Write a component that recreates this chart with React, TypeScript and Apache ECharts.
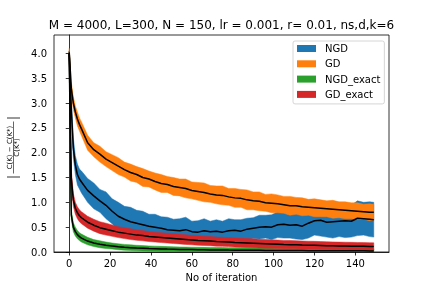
import React, { useEffect, useRef } from "react";
import * as echarts from "echarts";

const TITLE = "M = 4000, L=300, N = 150, lr = 0.001, r= 0.01, ns,d,k=6";
const X_NAME = "No of iteration";
const SERIES_NAMES = ["NGD", "GD", "NGD_exact", "GD_exact"];
const COLORS = ["#1f77b4", "#ff7f0e", "#2ca02c", "#d62728"];
const X_TICKS = [0, 20, 40, 60, 80, 100, 120, 140];
const Y_TICKS = [0, 0.5, 1, 1.5, 2, 2.5, 3, 3.5, 4];

const ITER = [0, 1, 2, 3, 4, 5, 6, 9, 12, 15, 18, 21, 24, 27, 30, 33, 36, 39, 42, 45, 48, 51, 54, 57, 60, 63, 66, 69, 72, 75, 78, 81, 84, 87, 90, 93, 96, 99, 102, 105, 108, 111, 114, 117, 120, 123, 126, 129, 132, 135, 138, 141, 144, 147, 149];

const NGD_MEAN = [4.0, 2.9, 2.1, 1.75, 1.56, 1.47, 1.41, 1.24, 1.13, 1.03, 0.94, 0.82, 0.72, 0.66, 0.61, 0.58, 0.55, 0.52, 0.5, 0.48, 0.45, 0.44, 0.43, 0.45, 0.41, 0.4, 0.43, 0.41, 0.42, 0.4, 0.43, 0.44, 0.42, 0.46, 0.48, 0.5, 0.51, 0.5, 0.55, 0.56, 0.54, 0.55, 0.52, 0.58, 0.63, 0.64, 0.6, 0.61, 0.62, 0.63, 0.62, 0.68, 0.67, 0.66, 0.65];
const NGD_STD = [0.05, 0.18, 0.2, 0.19, 0.21, 0.2, 0.22, 0.24, 0.26, 0.23, 0.27, 0.25, 0.28, 0.26, 0.29, 0.26, 0.27, 0.24, 0.26, 0.23, 0.25, 0.22, 0.24, 0.25, 0.21, 0.23, 0.24, 0.21, 0.23, 0.22, 0.24, 0.21, 0.23, 0.22, 0.21, 0.24, 0.23, 0.25, 0.26, 0.28, 0.26, 0.29, 0.27, 0.3, 0.29, 0.32, 0.3, 0.33, 0.31, 0.34, 0.32, 0.35, 0.33, 0.35, 0.35];

const GD_MEAN = [4.02, 3.3, 3.0, 2.82, 2.68, 2.57, 2.48, 2.2, 2.06, 1.97, 1.87, 1.8, 1.73, 1.66, 1.6, 1.56, 1.5, 1.47, 1.42, 1.38, 1.36, 1.32, 1.3, 1.28, 1.24, 1.22, 1.2, 1.17, 1.15, 1.14, 1.11, 1.09, 1.08, 1.05, 1.03, 1.02, 0.99, 0.98, 0.97, 0.95, 0.93, 0.93, 0.91, 0.9, 0.89, 0.88, 0.87, 0.86, 0.85, 0.84, 0.83, 0.82, 0.81, 0.8, 0.8];
const GD_STD = [0.08, 0.12, 0.13, 0.12, 0.14, 0.13, 0.14, 0.15, 0.14, 0.16, 0.15, 0.16, 0.17, 0.15, 0.17, 0.16, 0.18, 0.16, 0.17, 0.18, 0.16, 0.18, 0.17, 0.19, 0.17, 0.18, 0.19, 0.17, 0.18, 0.19, 0.17, 0.19, 0.18, 0.2, 0.18, 0.19, 0.17, 0.19, 0.18, 0.17, 0.19, 0.17, 0.18, 0.16, 0.18, 0.17, 0.16, 0.18, 0.16, 0.17, 0.16, 0.17, 0.15, 0.17, 0.16];

const NGDX_MEAN = [4.0, 0.75, 0.5, 0.41, 0.35, 0.31, 0.28, 0.22, 0.18, 0.155, 0.135, 0.12, 0.105, 0.095, 0.088, 0.08, 0.075, 0.07, 0.066, 0.062, 0.058, 0.055, 0.052, 0.05, 0.048, 0.046, 0.044, 0.042, 0.041, 0.04, 0.038, 0.037, 0.036, 0.035, 0.034, 0.033, 0.032, 0.031, 0.03, 0.03, 0.029, 0.028, 0.028, 0.027, 0.027, 0.026, 0.026, 0.025, 0.025, 0.024, 0.024, 0.023, 0.023, 0.022, 0.022];
const NGDX_STD = [0.05, 0.1, 0.09, 0.09, 0.085, 0.08, 0.08, 0.075, 0.07, 0.07, 0.065, 0.06, 0.06, 0.058, 0.056, 0.055, 0.054, 0.053, 0.052, 0.052, 0.051, 0.05, 0.05, 0.05, 0.05, 0.05, 0.05, 0.05, 0.05, 0.05, 0.05, 0.05, 0.05, 0.05, 0.05, 0.049, 0.049, 0.048, 0.048, 0.048, 0.047, 0.047, 0.047, 0.046, 0.046, 0.046, 0.046, 0.045, 0.045, 0.045, 0.045, 0.045, 0.045, 0.045, 0.045];

const GDX_MEAN = [4.0, 1.5, 1.05, 0.88, 0.79, 0.73, 0.69, 0.6, 0.54, 0.49, 0.46, 0.43, 0.4, 0.38, 0.36, 0.34, 0.33, 0.31, 0.3, 0.29, 0.28, 0.27, 0.26, 0.25, 0.24, 0.23, 0.225, 0.22, 0.21, 0.205, 0.2, 0.19, 0.185, 0.18, 0.175, 0.17, 0.165, 0.16, 0.155, 0.15, 0.148, 0.145, 0.14, 0.137, 0.134, 0.131, 0.128, 0.125, 0.122, 0.12, 0.118, 0.116, 0.114, 0.112, 0.11];
const GDX_STD = [0.05, 0.15, 0.13, 0.12, 0.12, 0.12, 0.12, 0.12, 0.12, 0.12, 0.12, 0.115, 0.11, 0.11, 0.11, 0.105, 0.105, 0.1, 0.1, 0.1, 0.1, 0.1, 0.098, 0.097, 0.096, 0.095, 0.094, 0.093, 0.092, 0.091, 0.09, 0.09, 0.09, 0.09, 0.09, 0.088, 0.087, 0.086, 0.085, 0.084, 0.083, 0.082, 0.081, 0.08, 0.08, 0.079, 0.078, 0.078, 0.077, 0.077, 0.076, 0.076, 0.075, 0.075, 0.075];

const MEANS = [NGD_MEAN, GD_MEAN, NGDX_MEAN, GDX_MEAN];
const STDS = [NGD_STD, GD_STD, NGDX_STD, GDX_STD];

function buildSeries() {
  const out: any[] = [];
  SERIES_NAMES.forEach((name, k) => {
    const m = MEANS[k];
    const s = STDS[k];
    const lower = m.map((v, i) => Math.max(0, v - s[i]));
    const upper = m.map((v, i) => v + s[i]);
    const color = COLORS[k];
    out.push({
      type: "custom",
      name,
      data: ITER.map((x, i) => [x, lower[i], upper[i]]),
      encode: { x: 0, y: [1, 2] },
      itemStyle: { color },
      clip: true,
      silent: true,
      renderItem: (params: any, api: any) => {
        if (params.dataIndex !== 0) return null;
        const top = ITER.map((x, i) => api.coord([x, upper[i]]));
        const bot = ITER.map((x, i) => api.coord([x, lower[i]])).reverse();
        return {
          type: "polygon",
          shape: { points: top.concat(bot) },
          style: { fill: color, stroke: color, lineWidth: 0.5 },
        };
      },
    });
    out.push({
      type: "line",
      name: name + "_mean",
      data: ITER.map((x, i) => [x, m[i]]),
      symbol: "none",
      lineStyle: { color: "#000", width: 1.5 },
      silent: true,
    });
  });
  return out;
}

export default function App() {
  const ref = useRef<HTMLDivElement>(null);
  useEffect(() => {
    if (!ref.current) return;
    const chart = echarts.init(ref.current, null, { renderer: "svg" });
    const font = "DejaVu Sans";
    chart.setOption({
      animation: false,
      textStyle: { fontFamily: font },
      grid: {
        left: 54,
        right: 43,
        top: 35,
        bottom: 36,
        show: true,
        borderColor: "#000",
        borderWidth: 0.8,
        backgroundColor: "transparent",
      },
      legend: {
        data: SERIES_NAMES.map((n, k) => ({ name: n, icon: "rect", itemStyle: { color: COLORS[k] } })),
        orient: "vertical",
        left: 293,
        top: 41,
        padding: [1.5, 4, 3.5, 4],
        itemGap: 3.3,
        itemWidth: 19,
        itemHeight: 7,
        borderColor: "#cccccc",
        borderWidth: 0.8,
        borderRadius: 2,
        backgroundColor: "rgba(255,255,255,0.8)",
        textStyle: { fontFamily: font, fontSize: 10, color: "#000", lineHeight: 12, padding: [0, 0, 0, 4] },
        selectedMode: false,
      },
      xAxis: {
        type: "value",
        min: -7.45,
        max: 156.45,
        name: X_NAME,
        nameLocation: "middle",
        nameGap: 19,
        nameTextStyle: { fontFamily: font, fontSize: 10, color: "#000" },
        axisLine: { show: true, lineStyle: { color: "#000", width: 0.8 } },
        axisTick: { show: true, customValues: X_TICKS, length: 3.5, lineStyle: { color: "#000", width: 0.8 } },
        axisLabel: { customValues: X_TICKS, fontFamily: font, fontSize: 10, color: "#000", margin: 6 },
        splitLine: { show: false },
      },
      yAxis: {
        type: "value",
        min: 0,
        max: 4.37,
        axisLine: { show: true, lineStyle: { color: "#000", width: 0.8 } },
        axisTick: { show: true, customValues: Y_TICKS, length: 3.5, lineStyle: { color: "#000", width: 0.8 } },
        axisLabel: {
          customValues: Y_TICKS,
          fontFamily: font,
          fontSize: 10,
          color: "#000",
          margin: 7,
          formatter: (v: number) => v.toFixed(1),
        },
        splitLine: { show: false },
      },
      graphic: [
        {
          type: "text",
          x: 221.5,
          y: 25,
          style: { text: TITLE, fontFamily: font, fontSize: 12, fill: "#000", textAlign: "center", textVerticalAlign: "middle" },
        },
        {
          type: "group",
          x: 13.5,
          y: 147.5,
          rotation: Math.PI / 2,
          children: [
            { type: "text", x: 0, y: -3.5, style: { text: "C(K) − C(K*)", fontFamily: font, fontSize: 7, fill: "#000", textAlign: "center", textVerticalAlign: "middle" } },
            { type: "text", x: 0, y: 3.5, style: { text: "C(K*)", fontFamily: font, fontSize: 7, fill: "#000", textAlign: "center", textVerticalAlign: "middle" } },
            { type: "line", shape: { x1: -26, y1: 0, x2: 26, y2: 0 }, style: { stroke: "#000", lineWidth: 0.6 } },
            { type: "line", shape: { x1: -29.5, y1: -6.5, x2: -29.5, y2: 6.5 }, style: { stroke: "#000", lineWidth: 0.8 } },
            { type: "line", shape: { x1: 29.5, y1: -6.5, x2: 29.5, y2: 6.5 }, style: { stroke: "#000", lineWidth: 0.8 } },
          ],
        },
      ],
      series: buildSeries(),
    });
    return () => chart.dispose();
  }, []);
  return <div ref={ref} style={{ position: "fixed", left: 0, top: 0, width: 432, height: 288 }} />;
}
